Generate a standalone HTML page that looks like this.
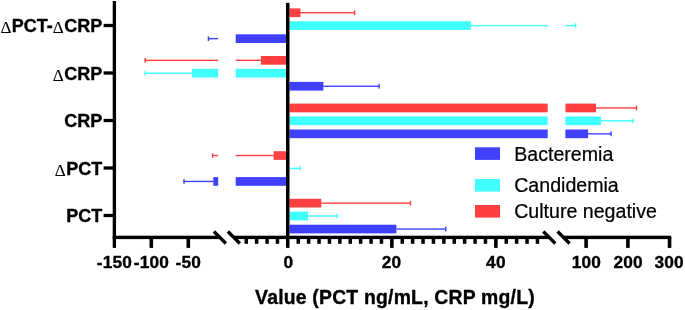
<!DOCTYPE html>
<html><head><meta charset="utf-8"><title>chart</title>
<style>
html,body{margin:0;padding:0;background:#fff;}
svg{display:block;will-change:transform;}
text{font-family:"Liberation Sans",sans-serif;fill:#000;}
text.b{stroke:#000;stroke-width:0.35px;stroke-linejoin:round;}
text.n{stroke:#000;stroke-width:0.22px;stroke-linejoin:round;}
</style></head><body>
<svg width="685" height="310" viewBox="0 0 685 310">
<rect x="0" y="0" width="685" height="310" fill="#ffffff"/>
<rect x="289.50" y="8.40" width="11.00" height="8.70" fill="#ff4040"/>
<rect x="300.50" y="12.05" width="54.50" height="1.40" fill="#ff4040"/>
<rect x="353.90" y="10.40" width="1.40" height="4.70" fill="#ff4040"/>
<rect x="289.50" y="21.25" width="181.40" height="8.70" fill="#40ffff"/>
<rect x="470.90" y="24.90" width="76.80" height="1.40" fill="#40ffff"/>
<rect x="565.40" y="24.90" width="10.60" height="1.40" fill="#40ffff"/>
<rect x="574.90" y="23.25" width="1.40" height="4.70" fill="#40ffff"/>
<rect x="235.70" y="34.30" width="50.30" height="8.70" fill="#4040ff"/>
<rect x="208.00" y="37.95" width="10.20" height="1.40" fill="#4040ff"/>
<rect x="207.70" y="36.30" width="1.40" height="4.70" fill="#4040ff"/>
<rect x="260.80" y="56.00" width="25.20" height="8.70" fill="#ff4040"/>
<rect x="235.70" y="59.65" width="25.10" height="1.40" fill="#ff4040"/>
<rect x="144.80" y="59.65" width="73.40" height="1.40" fill="#ff4040"/>
<rect x="144.50" y="58.00" width="1.40" height="4.70" fill="#ff4040"/>
<rect x="235.70" y="68.85" width="50.30" height="8.70" fill="#40ffff"/>
<rect x="192.00" y="68.85" width="26.20" height="8.70" fill="#40ffff"/>
<rect x="144.80" y="72.50" width="47.20" height="1.40" fill="#40ffff"/>
<rect x="144.50" y="70.85" width="1.40" height="4.70" fill="#40ffff"/>
<rect x="289.50" y="81.90" width="33.90" height="8.70" fill="#4040ff"/>
<rect x="323.40" y="85.55" width="56.10" height="1.40" fill="#4040ff"/>
<rect x="378.40" y="83.90" width="1.40" height="4.70" fill="#4040ff"/>
<rect x="289.50" y="103.60" width="258.20" height="8.70" fill="#ff4040"/>
<rect x="565.40" y="103.60" width="30.60" height="8.70" fill="#ff4040"/>
<rect x="596.00" y="107.25" width="40.90" height="1.40" fill="#ff4040"/>
<rect x="635.80" y="105.60" width="1.40" height="4.70" fill="#ff4040"/>
<rect x="289.50" y="116.45" width="258.20" height="8.70" fill="#40ffff"/>
<rect x="565.40" y="116.45" width="35.50" height="8.70" fill="#40ffff"/>
<rect x="600.90" y="120.10" width="32.50" height="1.40" fill="#40ffff"/>
<rect x="632.30" y="118.45" width="1.40" height="4.70" fill="#40ffff"/>
<rect x="289.50" y="129.50" width="258.20" height="8.70" fill="#4040ff"/>
<rect x="565.40" y="129.50" width="22.70" height="8.70" fill="#4040ff"/>
<rect x="588.10" y="133.15" width="23.40" height="1.40" fill="#4040ff"/>
<rect x="610.40" y="131.50" width="1.40" height="4.70" fill="#4040ff"/>
<rect x="273.60" y="151.20" width="12.40" height="8.70" fill="#ff4040"/>
<rect x="235.70" y="154.85" width="37.90" height="1.40" fill="#ff4040"/>
<rect x="212.20" y="154.85" width="6.00" height="1.40" fill="#ff4040"/>
<rect x="211.90" y="153.20" width="1.40" height="4.70" fill="#ff4040"/>
<rect x="289.50" y="167.70" width="10.80" height="1.40" fill="#40ffff"/>
<rect x="299.20" y="166.05" width="1.40" height="4.70" fill="#40ffff"/>
<rect x="235.70" y="177.10" width="50.30" height="8.70" fill="#4040ff"/>
<rect x="213.30" y="177.10" width="4.90" height="8.70" fill="#4040ff"/>
<rect x="183.60" y="180.75" width="29.70" height="1.40" fill="#4040ff"/>
<rect x="183.30" y="179.10" width="1.40" height="4.70" fill="#4040ff"/>
<rect x="289.50" y="198.80" width="31.80" height="8.70" fill="#ff4040"/>
<rect x="321.30" y="202.45" width="89.60" height="1.40" fill="#ff4040"/>
<rect x="409.80" y="200.80" width="1.40" height="4.70" fill="#ff4040"/>
<rect x="289.50" y="211.65" width="18.60" height="8.70" fill="#40ffff"/>
<rect x="308.10" y="215.30" width="29.50" height="1.40" fill="#40ffff"/>
<rect x="336.50" y="213.65" width="1.40" height="4.70" fill="#40ffff"/>
<rect x="289.50" y="224.70" width="106.90" height="8.70" fill="#4040ff"/>
<rect x="396.40" y="228.35" width="49.70" height="1.40" fill="#4040ff"/>
<rect x="445.00" y="226.70" width="1.40" height="4.70" fill="#4040ff"/>
<rect x="112.70" y="1.00" width="3.35" height="246.90" fill="#000"/>
<rect x="286.00" y="2.90" width="3.50" height="245.00" fill="#000"/>
<rect x="112.70" y="235.70" width="107.10" height="3.40" fill="#000"/>
<rect x="234.00" y="235.70" width="315.40" height="3.40" fill="#000"/>
<rect x="563.60" y="235.70" width="107.60" height="3.40" fill="#000"/>
<rect x="103.60" y="23.85" width="9.40" height="3.30" fill="#000"/>
<rect x="103.60" y="71.35" width="9.40" height="3.30" fill="#000"/>
<rect x="103.60" y="118.85" width="9.40" height="3.30" fill="#000"/>
<rect x="103.60" y="166.35" width="9.40" height="3.30" fill="#000"/>
<rect x="103.60" y="213.85" width="9.40" height="3.30" fill="#000"/>
<rect x="149.50" y="237.00" width="3.60" height="10.90" fill="#000"/>
<rect x="186.50" y="237.00" width="3.60" height="10.90" fill="#000"/>
<rect x="390.05" y="237.00" width="3.60" height="10.90" fill="#000"/>
<rect x="494.05" y="237.00" width="3.60" height="10.90" fill="#000"/>
<rect x="584.30" y="237.00" width="3.60" height="10.90" fill="#000"/>
<rect x="626.10" y="237.00" width="3.60" height="10.90" fill="#000"/>
<rect x="667.75" y="237.00" width="3.60" height="10.90" fill="#000"/>
<rect x="244.50" y="237.00" width="3.50" height="6.80" fill="#000"/>
<rect x="254.90" y="237.00" width="3.50" height="6.80" fill="#000"/>
<rect x="265.30" y="237.00" width="3.50" height="6.80" fill="#000"/>
<rect x="275.70" y="237.00" width="3.50" height="6.80" fill="#000"/>
<rect x="296.50" y="237.00" width="3.50" height="6.80" fill="#000"/>
<rect x="306.90" y="237.00" width="3.50" height="6.80" fill="#000"/>
<rect x="317.30" y="237.00" width="3.50" height="6.80" fill="#000"/>
<rect x="327.70" y="237.00" width="3.50" height="6.80" fill="#000"/>
<rect x="338.10" y="237.00" width="3.50" height="6.80" fill="#000"/>
<rect x="348.50" y="237.00" width="3.50" height="6.80" fill="#000"/>
<rect x="358.90" y="237.00" width="3.50" height="6.80" fill="#000"/>
<rect x="369.30" y="237.00" width="3.50" height="6.80" fill="#000"/>
<rect x="379.70" y="237.00" width="3.50" height="6.80" fill="#000"/>
<rect x="400.50" y="237.00" width="3.50" height="6.80" fill="#000"/>
<rect x="410.90" y="237.00" width="3.50" height="6.80" fill="#000"/>
<rect x="421.30" y="237.00" width="3.50" height="6.80" fill="#000"/>
<rect x="431.70" y="237.00" width="3.50" height="6.80" fill="#000"/>
<rect x="442.10" y="237.00" width="3.50" height="6.80" fill="#000"/>
<rect x="452.50" y="237.00" width="3.50" height="6.80" fill="#000"/>
<rect x="462.90" y="237.00" width="3.50" height="6.80" fill="#000"/>
<rect x="473.30" y="237.00" width="3.50" height="6.80" fill="#000"/>
<rect x="483.70" y="237.00" width="3.50" height="6.80" fill="#000"/>
<rect x="504.50" y="237.00" width="3.50" height="6.80" fill="#000"/>
<rect x="514.90" y="237.00" width="3.50" height="6.80" fill="#000"/>
<rect x="525.30" y="237.00" width="3.50" height="6.80" fill="#000"/>
<rect x="535.70" y="237.00" width="3.50" height="6.80" fill="#000"/>
<line x1="213.90" y1="231.50" x2="225.90" y2="243.50" stroke="#000" stroke-width="3.3"/>
<line x1="227.90" y1="231.50" x2="239.90" y2="243.50" stroke="#000" stroke-width="3.3"/>
<line x1="543.30" y1="231.50" x2="555.30" y2="243.50" stroke="#000" stroke-width="3.3"/>
<line x1="557.60" y1="231.50" x2="569.60" y2="243.50" stroke="#000" stroke-width="3.3"/>
<rect x="475.00" y="147.30" width="25.00" height="12.60" fill="#4040ff"/>
<rect x="475.00" y="179.00" width="25.00" height="12.60" fill="#40ffff"/>
<rect x="475.00" y="205.00" width="25.00" height="12.60" fill="#ff4040"/>
<text class="b" x="114.45" y="267.60" font-size="17.3" font-weight="bold" text-anchor="middle" letter-spacing="0.2">-150</text>
<text class="b" x="151.40" y="267.60" font-size="17.3" font-weight="bold" text-anchor="middle" letter-spacing="0.2">-100</text>
<text class="b" x="188.30" y="267.60" font-size="17.3" font-weight="bold" text-anchor="middle" letter-spacing="0.2">-50</text>
<text class="b" x="288.30" y="267.60" font-size="17.3" font-weight="bold" text-anchor="middle" letter-spacing="0.2">0</text>
<text class="b" x="391.60" y="267.60" font-size="17.3" font-weight="bold" text-anchor="middle" letter-spacing="0.2">20</text>
<text class="b" x="495.90" y="267.60" font-size="17.3" font-weight="bold" text-anchor="middle" letter-spacing="0.2">40</text>
<text class="b" x="586.40" y="267.60" font-size="17.3" font-weight="bold" text-anchor="middle" letter-spacing="0.2">100</text>
<text class="b" x="628.20" y="267.60" font-size="17.3" font-weight="bold" text-anchor="middle" letter-spacing="0.2">200</text>
<text class="b" x="669.10" y="267.60" font-size="17.3" font-weight="bold" text-anchor="middle" letter-spacing="0.2">300</text>
<text class="b" x="102.20" y="32.40" font-size="18" font-weight="bold" text-anchor="end" ><tspan font-family="Liberation Serif, serif" font-weight="normal" font-size="17" dy="1.0" stroke-width="0.1">&#916;</tspan><tspan dy="-1.0" dx="0.4">PCT-</tspan><tspan font-family="Liberation Serif, serif" font-weight="normal" font-size="17" dy="1.0" stroke-width="0.1">&#916;</tspan><tspan dy="-1.0" dx="0.4">CRP</tspan></text>
<text class="b" x="102.20" y="79.90" font-size="18" font-weight="bold" text-anchor="end" ><tspan font-family="Liberation Serif, serif" font-weight="normal" font-size="17" dy="1.0" stroke-width="0.1">&#916;</tspan><tspan dy="-1.0" dx="0.4">CRP</tspan></text>
<text class="b" x="102.20" y="127.40" font-size="18" font-weight="bold" text-anchor="end" >CRP</text>
<text class="b" x="102.20" y="174.90" font-size="18" font-weight="bold" text-anchor="end" ><tspan font-family="Liberation Serif, serif" font-weight="normal" font-size="17" dy="1.0" stroke-width="0.1">&#916;</tspan><tspan dy="-1.0" dx="0.4">PCT</tspan></text>
<text class="b" x="102.20" y="222.40" font-size="18" font-weight="bold" text-anchor="end" >PCT</text>
<text class="b" x="395.00" y="303.50" font-size="19.4" font-weight="bold" text-anchor="middle" letter-spacing="0.2">Value (PCT ng/mL, CRP mg/L)</text>
<text class="n" x="514.20" y="161.00" font-size="19.6" font-weight="normal" text-anchor="start" >Bacteremia</text>
<text class="n" x="514.20" y="192.10" font-size="19.6" font-weight="normal" text-anchor="start" >Candidemia</text>
<text class="n" x="514.20" y="218.20" font-size="19.6" font-weight="normal" text-anchor="start" >Culture negative</text>
</svg>
</body></html>
